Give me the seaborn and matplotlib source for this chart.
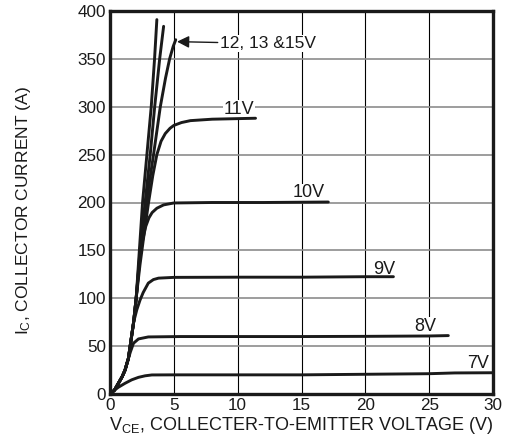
import pandas as pd
import matplotlib
matplotlib.use("Agg")
import matplotlib.pyplot as plt
import seaborn as sns

# points (Vce in V, Ic in A)
base_v = [0, 0.35, 0.65, 0.95, 1.18, 1.35, 1.44]
base_i = [0, 4, 11, 18, 25, 33, 37]

vce_15 = base_v + [1.58, 1.85, 2.05, 2.3, 2.55, 2.89, 3.23, 3.49, 3.67]
ic_15 = base_i + [50, 75, 100, 150, 200, 250, 300, 350, 391]

vce_13 = base_v + [1.58, 1.85, 2.05, 2.35, 2.75, 3.15, 3.5, 3.89, 4.2]
ic_13 = base_i + [50, 75, 100, 150, 200, 250, 300, 350, 384]

vce_12 = base_v + [1.58, 1.85, 2.05, 2.4, 2.85, 3.41, 3.94, 4.35, 4.67, 4.95, 5.15]
ic_12 = base_i + [50, 75, 100, 150, 200, 250, 300, 330, 350, 363, 370]

vce_11 = base_v + [1.58, 1.85, 2.05, 2.35, 2.68, 3.02, 3.35, 3.67, 4.0, 4.33, 4.7, 5.0, 5.6, 6.3, 8.0, 11.4]
ic_11 = base_i + [50, 75, 100, 135, 168, 200, 228, 250, 264, 272, 277.5, 280.5, 283.5, 285.5, 287, 288]

vce_10 = base_v + [1.58, 1.85, 2.05, 2.3, 2.55, 2.8, 3.05, 3.3, 3.67, 4.2, 5.0, 8.0, 12.0, 17.1]
ic_10 = base_i + [50, 75, 100, 138, 160, 175, 184, 189.5, 194, 197.5, 199.5, 200, 200, 200.5]

vce_9 = base_v + [1.58, 1.85, 2.1, 2.35, 2.6, 3.0, 3.4, 3.8, 5.0, 10, 15, 20, 22.2]
ic_9 = base_i + [50, 75, 88, 98, 106, 115.8, 119.5, 121, 121.8, 122, 122, 122.5, 122.5]

vce_8 = base_v + [1.6, 1.84, 2.23, 3.0, 5.5, 10, 15, 20, 25, 26.5]
ic_8 = base_i + [44, 53, 57.5, 59.6, 60, 60, 60, 60.2, 60.6, 61]

vce_7 = [0, 0.35, 0.65, 1.18, 1.7, 2.23, 2.75, 3.28, 5, 10, 15, 20, 25, 27, 30]
ic_7 = [0, 4, 7, 11.2, 14.8, 17.4, 19, 19.9, 20, 20, 20, 20.6, 21.2, 22, 22.2]

curves = {"15V": (vce_15, ic_15), "13V": (vce_13, ic_13), "12V": (vce_12, ic_12),
          "11V": (vce_11, ic_11), "10V": (vce_10, ic_10), "9V": (vce_9, ic_9),
          "8V": (vce_8, ic_8), "7V": (vce_7, ic_7)}

# label text and where it sits
label_text = ["11V", "10V", "9V", "8V", "7V"]
label_x = [10.1, 15.6, 21.5, 24.7, 28.8]
label_y = [297, 210, 130, 70.4, 32]

rows = []
for name, (v, i) in curves.items():
    for a, b in zip(v, i):
        rows.append({"vce": a, "ic": b, "vge": name})
df = pd.DataFrame(rows)

sns.set_style("white")
plt.rcParams["font.family"] = ["Liberation Sans", "DejaVu Sans"]
plt.rcParams["mathtext.fontset"] = "custom"
plt.rcParams["mathtext.rm"] = "Liberation Sans"
plt.rcParams["mathtext.it"] = "Liberation Sans"

ink = "#1a1a1a"

fig = plt.figure(figsize=(5.05, 4.43), dpi=100)
ax = fig.add_axes([110 / 505, 1 - 394 / 443, 383 / 505, 383 / 443])

# grid: vertical thin black, horizontal grey
for xv in [5, 10, 15, 20, 25]:
    ax.axvline(xv, color="black", lw=0.8, zorder=1)
for yv in [50, 100, 150, 200, 250, 300, 350]:
    ax.axhline(yv, color="#8c8c8c", lw=1.2, zorder=1)

sns.lineplot(data=df, x="vce", y="ic", units="vge", estimator=None, sort=False,
             color=ink, lw=2.1, ax=ax, zorder=3)

for t, x, y in zip(label_text, label_x, label_y):
    ax.text(x, y, t, fontsize=13, ha="center", va="center", zorder=2, color=ink,
            bbox=dict(facecolor="white", edgecolor="none", pad=0.5))

ax.annotate("12, 13 &15V", xy=(5.25, 368), xytext=(8.6, 366), fontsize=12.5,
            ha="left", va="center", zorder=2, color=ink,
            bbox=dict(facecolor="white", edgecolor="none", pad=0.5),
            arrowprops=dict(arrowstyle="-|>", color=ink, lw=1.0,
                            mutation_scale=18, shrinkA=1, shrinkB=0))

ax.set_xlim(0, 30)
ax.set_ylim(0, 400)
ax.set_xticks([0, 5, 10, 15, 20, 25, 30])
ax.set_yticks([0, 50, 100, 150, 200, 250, 300, 350, 400])
ax.tick_params(length=0, labelsize=12.3, pad=3, colors=ink)
for s in ax.spines.values():
    s.set_linewidth(2.4)
    s.set_color(ink)
    s.set_zorder(5)

ax.set_xlabel(r"V$_\mathregular{CE}$, COLLECTER-TO-EMITTER VOLTAGE (V)", fontsize=13, labelpad=1, color=ink)
ax.set_ylabel(r"I$_\mathregular{C}$, COLLECTOR CURRENT (A)", fontsize=12.5, color=ink)
ax.yaxis.set_label_coords(-0.2, 0.48)

fig.savefig("out.png", dpi=100)
